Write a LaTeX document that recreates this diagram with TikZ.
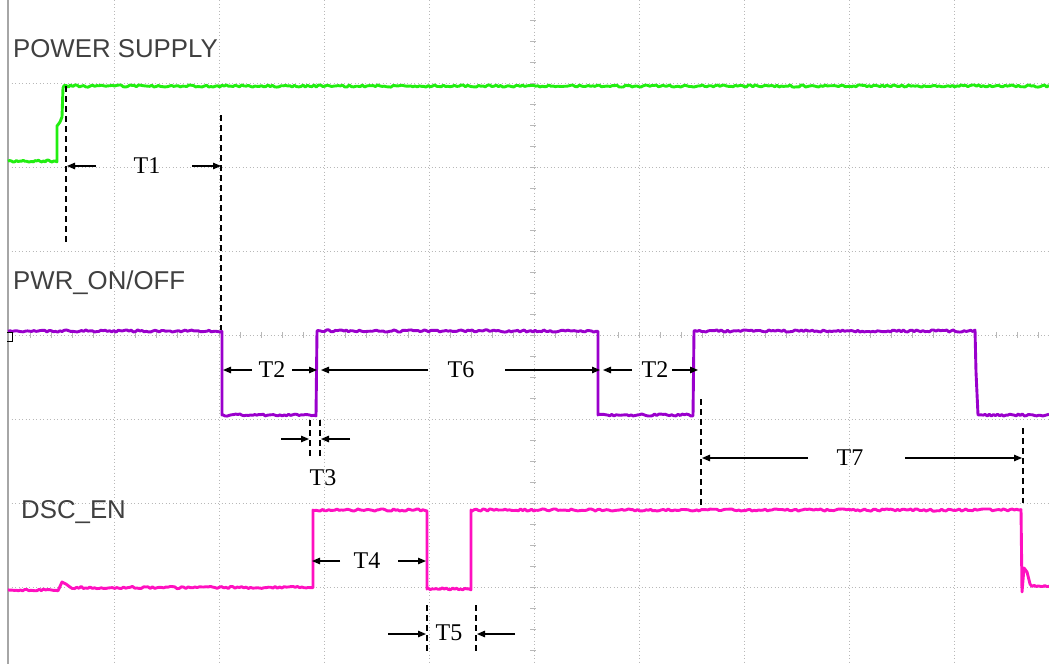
\documentclass[tikz,border=0pt]{standalone}
\usepackage{fontspec}
\setmainfont{Liberation Serif}
\newfontfamily\labfont{Liberation Sans}
\usetikzlibrary{arrows.meta}
\definecolor{psgreen}{HTML}{22EE11}
\definecolor{pwrpurple}{HTML}{9A00CC}
\definecolor{dscpink}{HTML}{FF10C0}
\definecolor{gridgray}{HTML}{B8B8B8}
\definecolor{labgray}{HTML}{404040}
\begin{document}
\begin{tikzpicture}[x=1pt,y=-1pt,
  gridline/.style={gridgray, line width=0.9pt, dash pattern=on 1.2pt off 2.3pt},
  tickmark/.style={gridgray, line width=1pt},
  trace/.style={line width=2.9pt, line join=round},
  sig/.style={font=\labfont\fontsize{25.8}{26}\selectfont, text=labgray, inner sep=0pt, anchor=base west},
  tlab/.style={font=\fontsize{24}{24}\selectfont, inner sep=0pt},
  dim/.style={line width=1.2pt, -{Triangle[length=8pt,width=6.5pt]}},
  guide/.style={line width=1.3pt, dash pattern=on 6pt off 4pt}
]
\useasboundingbox (0,0) rectangle (1049,664);
\fill[white] (0,0) rectangle (1049,664);
% grid
\foreach \gx in {114,219,...,954} \draw[gridline] (\gx,0) -- (\gx,664);
\foreach \gy in {83,167,...,587} \draw[gridline] (8,\gy) -- (1049,\gy);
\foreach \ty in {20,41,...,650} \draw[tickmark] (530,\ty) -- (536,\ty);
\foreach \tx in {30,51,...,1038} \draw[tickmark] (\tx,332) -- (\tx,338);
\draw[gray!70, line width=1.2pt] (8,0) -- (8,664);
% traces
\pgfmathsetseed{7}
\draw[trace, psgreen] plot[domain=8:57, samples=30] (\x,{161+1.0*rand}) -- (57,126) -- (60,122) -- (62,117) -- (63,88)
  -- plot[domain=64:1049, samples=450] (\x,{86+1.1*rand});
\draw[trace, pwrpurple] plot[domain=8:222, samples=100] (\x,{331+1.1*rand}) -- (222,415)
  -- plot[domain=223:316, samples=45] (\x,{415+1.1*rand}) -- (317,331)
  -- plot[domain=318:598, samples=130] (\x,{331+1.1*rand}) -- (598,415)
  -- plot[domain=599:693, samples=45] (\x,{415+1.1*rand}) -- (694,331)
  -- plot[domain=695:975, samples=130] (\x,{331+1.1*rand}) -- (976,372) -- (978,415)
  -- plot[domain=979:1049, samples=35] (\x,{415+1.1*rand});
\draw[trace, dscpink] plot[domain=8:58, samples=25] (\x,{590+1.0*rand}) -- (62,582) -- (66,584)
  -- plot[domain=70:313, samples=110] (\x,{587.5+1.1*rand}) -- (313,510)
  -- plot[domain=314:427, samples=55] (\x,{510+1.1*rand}) -- (427,589)
  -- plot[domain=428:471, samples=22] (\x,{589+1.1*rand}) -- (471,510)
  -- plot[domain=472:1021, samples=250] (\x,{510+1.1*rand}) -- (1022,592) -- (1024,568) -- (1027,572) -- (1030,584)
  -- plot[domain=1032:1049, samples=9] (\x,{586+1.0*rand});
\draw[black, line width=1pt] (7,332) -- (12,332) -- (12,341) -- (7,341);
% signal labels
\node[sig] (lblPS) at (13,57) {POWER SUPPLY};
\node[sig] (lblPWR) at (13,289) {PWR\_ON/OFF};
\node[sig] (lblDSC) at (21,518) {DSC\_EN};
% timing labels
\node[tlab] (t1) at (147,166) {T1};
\node[tlab] (t2a) at (272,370) {T2};
\node[tlab] (t6) at (461,370) {T6};
\node[tlab] (t2b) at (655,370) {T2};
\node[tlab] (t3) at (323,478) {T3};
\node[tlab] (t7) at (850,458) {T7};
\node[tlab] (t4) at (367,561) {T4};
\node[tlab] (t5) at (449,633) {T5};
% guide coordinates
\coordinate (g1a) at (66,86);   \coordinate (g1b) at (66,243);
\coordinate (g2a) at (221,115); \coordinate (g2b) at (221,330);
\coordinate (g3a) at (310,420); \coordinate (g3b) at (310,458);
\coordinate (g4a) at (320,420); \coordinate (g4b) at (320,458);
\coordinate (g5a) at (701,399); \coordinate (g5b) at (701,508);
\coordinate (g6a) at (1023,428);\coordinate (g6b) at (1023,503);
\coordinate (g7a) at (427,605); \coordinate (g7b) at (427,653);
\coordinate (g8a) at (476,605); \coordinate (g8b) at (476,653);
\foreach \g in {1,...,8} \draw[guide] (g\g a) -- (g\g b);
% arrow coordinates
\coordinate (a1t) at (96,166);  \coordinate (a1h) at (67,166);
\coordinate (a2t) at (192,166); \coordinate (a2h) at (221,166);
\coordinate (a3t) at (252,370); \coordinate (a3h) at (223,370);
\coordinate (a4t) at (292,370); \coordinate (a4h) at (317,370);
\coordinate (a5t) at (428,370); \coordinate (a5h) at (321,370);
\coordinate (a6t) at (505,370); \coordinate (a6h) at (600,370);
\coordinate (a7t) at (632,370); \coordinate (a7h) at (603,370);
\coordinate (a8t) at (672,370); \coordinate (a8h) at (698,370);
\coordinate (a9t) at (281,439); \coordinate (a9h) at (309,439);
\coordinate (a10t) at (350,439);\coordinate (a10h) at (321,439);
\coordinate (a11t) at (808,458);\coordinate (a11h) at (702,458);
\coordinate (a12t) at (905,458);\coordinate (a12h) at (1022,458);
\coordinate (a13t) at (340,561);\coordinate (a13h) at (312,561);
\coordinate (a14t) at (398,561);\coordinate (a14h) at (426,561);
\coordinate (a15t) at (388,634);\coordinate (a15h) at (426,634);
\coordinate (a16t) at (515,634);\coordinate (a16h) at (477,634);
\foreach \a in {1,...,16} \draw[dim] (a\a t) -- (a\a h);
\end{tikzpicture}
\end{document}
